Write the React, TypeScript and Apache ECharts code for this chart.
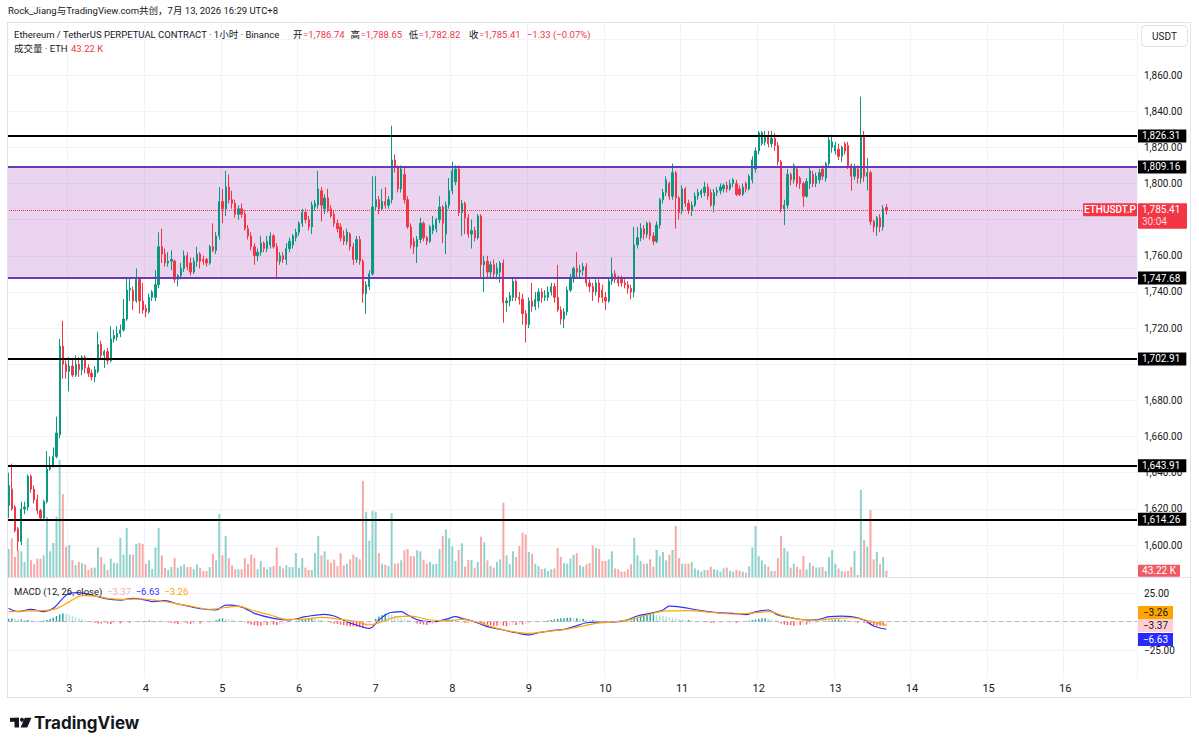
import React, { useEffect, useRef } from "react";
import * as echarts from "echarts";

const FONT = 'Roboto, "Noto Sans CJK SC", "Noto Sans", sans-serif';

// ---- time axis: hourly candles, first candle Jul 2 05:00 (UTC+8)
const FIRST_DAY = 2;
const FIRST_HOUR = 5;
const SLOTS = 354;

// ---- candles [open, high, low, close]
const candles: [number, number, number, number][] = [
  [1622,1640,1615,1633],[1631,1645,1619,1620],[1621,1622,1607,1608],[1609,1610,1597,1602],
  [1602,1624,1600,1620],[1620,1624,1617,1621],[1621,1639,1619,1638],[1638,1639,1629,1631],
  [1631,1633,1623,1625],[1625,1628,1617,1619],[1619,1620,1614,1615],[1615,1625,1614,1624],
  [1624,1652,1623,1642],[1642,1649,1641,1644],[1644,1654,1643,1649],[1649,1671,1648,1662],
  [1661,1714,1659,1710],[1710,1724,1692,1700],[1700,1702,1692,1696],[1696,1704,1685,1699],
  [1699,1703,1693,1694],[1694,1705,1693,1700],[1700,1704,1693,1697],[1697,1705,1694,1704],
  [1704,1705,1695,1698],[1698,1700,1693,1695],[1695,1697,1691,1693],[1693,1699,1690,1697],
  [1696,1718,1695,1711],[1711,1713,1703,1705],[1705,1708,1698,1707],[1707,1709,1700,1702],
  [1702,1721,1701,1714],[1714,1719,1712,1716],[1715,1721,1713,1717],[1717,1722,1715,1719],
  [1719,1736,1718,1725],[1725,1748,1724,1741],[1741,1748,1735,1742],[1741,1743,1730,1735],
  [1735,1753,1734,1747],[1747,1748,1728,1735],[1735,1745,1728,1730],[1731,1733,1726,1729],
  [1729,1739,1728,1737],[1737,1741,1735,1740],[1737,1752,1735,1744],[1744,1773,1742,1765],
  [1765,1775,1756,1761],[1761,1764,1754,1756],[1756,1762,1754,1757],[1757,1763,1752,1758],
  [1757,1758,1745,1747],[1747,1750,1743,1749],[1749,1756,1747,1753],[1753,1763,1751,1760],
  [1760,1762,1752,1754],[1756,1759,1749,1751],[1751,1759,1750,1757],[1757,1765,1754,1761],
  [1761,1762,1753,1757],[1758,1760,1755,1757],[1758,1759,1754,1756],[1756,1766,1755,1765],
  [1765,1778,1762,1763],[1763,1773,1761,1771],[1771,1798,1769,1790],[1790,1797,1778,1786],
  [1786,1807,1782,1798],[1798,1805,1789,1791],[1791,1796,1786,1789],[1789,1791,1781,1783],
  [1783,1788,1780,1786],[1786,1789,1781,1783],[1783,1785,1774,1775],[1775,1777,1769,1771],
  [1771,1773,1763,1765],[1765,1767,1755,1760],[1760,1764,1757,1762],[1762,1771,1760,1767],
  [1767,1768,1762,1764],[1764,1771,1762,1768],[1766,1773,1764,1771],[1771,1772,1764,1765],
  [1765,1767,1747,1757],[1757,1762,1755,1760],[1760,1762,1756,1758],[1758,1767,1755,1764],
  [1764,1770,1762,1768],[1766,1772,1764,1771],[1770,1775,1768,1773],[1773,1779,1771,1778],
  [1778,1786,1776,1784],[1784,1786,1778,1780],[1780,1782,1774,1776],[1776,1790,1772,1788],
  [1787,1791,1785,1789],[1788,1807,1786,1797],[1796,1798,1779,1788],[1786,1794,1783,1792],
  [1792,1797,1784,1785],[1786,1788,1781,1782],[1783,1785,1776,1778],[1778,1780,1773,1775],
  [1776,1778,1768,1770],[1771,1774,1766,1768],[1768,1775,1766,1773],[1772,1773,1763,1765],
  [1765,1767,1755,1758],[1758,1771,1756,1769],[1769,1771,1755,1757],[1757,1758,1734,1739],
  [1739,1746,1728,1744],[1743,1752,1741,1750],[1750,1804,1749,1787],[1787,1804,1785,1791],
  [1791,1793,1783,1786],[1786,1797,1785,1790],[1790,1798,1786,1788],[1788,1793,1786,1791],
  [1791,1832,1789,1813],[1813,1816,1806,1809],[1809,1810,1795,1797],[1797,1810,1795,1808],
  [1805,1809,1789,1791],[1791,1793,1775,1776],[1776,1778,1764,1766],[1768,1770,1761,1765],
  [1765,1771,1756,1769],[1769,1781,1767,1778],[1778,1779,1768,1770],[1770,1771,1766,1768],
  [1768,1777,1767,1776],[1774,1782,1772,1777],[1775,1781,1773,1780],[1780,1793,1778,1787],
  [1787,1788,1767,1778],[1772,1790,1761,1788],[1788,1803,1786,1796],[1796,1812,1794,1807],
  [1801,1810,1799,1808],[1808,1810,1782,1784],[1784,1791,1771,1789],[1789,1790,1772,1781],
  [1781,1783,1770,1772],[1772,1780,1764,1774],[1774,1776,1768,1770],[1770,1783,1769,1782],
  [1782,1783,1748,1755],[1755,1760,1740,1757],[1757,1760,1748,1751],[1751,1757,1748,1755],
  [1755,1758,1748,1750],[1750,1756,1747,1753],[1751,1757,1745,1756],[1756,1758,1723,1734],
  [1734,1737,1729,1735],[1735,1740,1732,1738],[1737,1748,1735,1746],[1746,1747,1735,1737],
  [1737,1740,1733,1736],[1736,1739,1722,1728],[1728,1730,1712,1722],[1722,1737,1720,1735],
  [1735,1745,1729,1732],[1732,1740,1730,1736],[1735,1742,1731,1740],[1740,1742,1734,1737],
  [1737,1741,1735,1738],[1737,1743,1735,1740],[1740,1745,1738,1743],[1743,1745,1734,1737],
  [1737,1755,1729,1730],[1730,1732,1722,1725],[1725,1731,1720,1729],[1729,1743,1727,1741],
  [1741,1750,1740,1748],[1748,1754,1745,1753],[1753,1762,1748,1751],[1751,1755,1748,1752],
  [1752,1756,1749,1754],[1754,1756,1743,1745],[1745,1747,1740,1743],[1743,1745,1735,1740],
  [1740,1747,1738,1745],[1745,1747,1734,1737],[1741,1744,1734,1737],[1737,1740,1730,1735],
  [1735,1748,1734,1746],[1746,1759,1744,1750],[1750,1752,1745,1747],[1747,1749,1743,1745],
  [1747,1749,1743,1745],[1745,1747,1742,1744],[1744,1746,1739,1742],[1742,1744,1736,1740],
  [1740,1776,1737,1766],[1766,1776,1764,1770],[1770,1778,1768,1775],[1775,1777,1769,1772],
  [1772,1779,1770,1778],[1778,1779,1769,1771],[1771,1773,1766,1768],[1768,1779,1767,1777],
  [1777,1792,1775,1791],[1791,1797,1789,1795],[1795,1804,1793,1802],[1800,1801,1791,1793],
  [1793,1811,1791,1806],[1806,1807,1775,1792],[1792,1793,1780,1784],[1785,1799,1783,1797],
  [1797,1798,1787,1789],[1789,1791,1783,1785],[1785,1790,1782,1788],[1788,1795,1787,1793],
  [1793,1797,1791,1795],[1794,1797,1792,1796],[1795,1801,1793,1798],[1798,1800,1791,1793],
  [1795,1797,1787,1788],[1788,1797,1784,1795],[1795,1798,1793,1796],[1796,1800,1794,1798],
  [1797,1800,1795,1799],[1799,1801,1795,1797],[1797,1802,1796,1800],[1800,1803,1798,1802],
  [1800,1802,1793,1794],[1797,1799,1793,1794],[1794,1800,1793,1798],[1800,1801,1795,1797],
  [1797,1805,1796,1804],[1802,1815,1800,1813],[1808,1820,1806,1818],[1818,1829,1816,1828],
  [1822,1829,1821,1828],[1823,1829,1821,1826],[1826,1829,1820,1822],[1822,1829,1820,1825],
  [1825,1828,1818,1821],[1821,1823,1810,1812],[1812,1813,1784,1786],[1786,1791,1777,1788],
  [1788,1808,1786,1805],[1805,1806,1799,1802],[1802,1811,1800,1810],[1808,1809,1798,1800],
  [1803,1804,1797,1800],[1800,1801,1787,1793],[1793,1803,1792,1801],[1800,1809,1797,1807],
  [1805,1807,1798,1800],[1800,1806,1798,1804],[1802,1808,1800,1806],[1808,1810,1802,1804],
  [1803,1812,1801,1811],[1811,1826,1809,1824],[1820,1827,1817,1823],[1818,1823,1816,1821],
  [1819,1822,1813,1815],[1815,1821,1812,1820],[1822,1823,1816,1818],[1821,1823,1808,1810],
  [1810,1811,1796,1804],[1804,1811,1802,1809],[1808,1810,1800,1803],[1803,1848,1800,1826],
  [1826,1829,1801,1804],[1804,1814,1796,1806],[1806,1807,1777,1779],[1779,1780,1773,1776],
  [1776,1782,1771,1781],[1781,1783,1773,1776],[1776,1788,1774,1786],[1786.74,1788.65,1782.82,1785.41],
];

// ---- volume (thousand ETH)
const volumesK: number[] = [
  192,265,137,185,176,103,265,116,87,126,
  126,148,411,176,233,413,801,568,208,219,
  116,82,103,94,87,48,64,64,203,137,
  91,48,126,98,94,269,153,336,153,153,
  226,233,226,91,114,55,203,336,148,64,
  48,68,130,64,75,87,68,68,53,87,
  64,41,41,68,158,114,431,148,281,130,
  80,53,53,53,130,91,153,130,53,110,
  68,53,68,75,203,75,59,80,68,68,
  164,64,130,64,48,48,164,281,148,176,
  119,98,119,75,164,80,91,121,153,137,
  121,658,447,249,454,447,164,91,84,75,
  436,91,94,114,183,192,142,142,183,176,
  119,91,103,87,91,192,281,326,265,210,
  110,185,231,71,116,116,64,103,276,237,
  114,75,64,103,121,509,148,87,176,137,
  212,304,292,171,158,91,75,55,59,41,
  53,59,199,137,96,91,126,153,164,80,
  71,87,96,215,199,192,110,110,121,176,
  59,53,37,37,53,87,269,148,110,91,
  91,121,71,185,142,171,114,153,185,349,
  130,91,91,91,103,59,48,37,48,48,
  71,55,48,37,59,64,41,37,48,41,
  37,30,75,203,349,142,114,87,71,41,
  41,130,281,199,176,64,91,71,53,144,
  53,98,75,64,68,68,41,137,185,91,
  59,41,37,41,68,180,14,596,253,208,
  459,121,171,87,137,43.22,
];

// ---- MACD (12, 26, close): readings [candle index, value]
const macdPoints: [number, number][] = [
  [0,11.8],[3,8.8],[7,10.9],[11,8.8],[14,11.8],[17,20.6],[19,25.0],[22,25.6],[26,23.5],[30,20.6],
  [35,19.1],[39,20.6],[43,19.1],[45,17.7],[49,18.5],[53,15.6],[57,13.2],[61,11.2],[65,10.3],[68,14.7],
  [70,14.7],[74,11.8],[77,7.4],[83,3.0],[88,1.5],[93,4.4],[99,6.5],[102,5.0],[106,0.0],[109,-2.9],
  [113,-5.9],[116,1.5],[119,7.4],[123,8.8],[125,5.9],[129,0.9],[133,0.0],[137,2.1],[140,4.4],[142,3.0],
  [146,0.0],[150,-4.4],[155,-7.3],[159,-9.7],[163,-11.7],[166,-9.7],[170,-8.0],[174,-6.7],[177,-4.4],[181,-0.9],
  [184,-0.3],[189,-0.3],[193,0.9],[197,5.0],[201,7.4],[205,10.3],[207,13.8],[211,12.7],[216,10.3],[222,8.0],
  [227,7.4],[231,6.2],[234,8.8],[238,10.3],[241,5.9],[246,3.0],[250,1.5],[254,2.1],[257,4.4],[261,5.0],
  [264,4.4],[268,1.5],[271,-3.8],[275,-6.63],
];
const signalPoints: [number, number][] = [
  [0,8.8],[4,9.4],[10,9.7],[15,11.5],[19,17.5],[23,23.0],[27,22.7],[31,20.6],[36,19.7],[42,20.0],
  [47,18.5],[52,16.2],[58,13.2],[63,11.0],[68,12.5],[72,13.8],[76,10.3],[82,5.9],[87,2.1],[92,2.1],
  [98,3.8],[104,2.1],[109,0.0],[113,-2.9],[117,0.0],[122,4.5],[126,5.0],[132,1.5],[138,0.9],[142,2.1],
  [148,-1.4],[153,-5.9],[158,-8.8],[163,-10.3],[168,-8.8],[173,-7.3],[179,-4.4],[184,-1.4],[189,-0.3],[195,2.1],
  [200,5.9],[206,9.5],[213,9.7],[220,8.3],[227,6.8],[232,7.4],[238,8.8],[243,5.0],[248,2.1],[254,1.5],
  [259,3.0],[264,3.5],[270,0.5],[275,-3.26],
];
const histogram: number[] = [
  2.5,3,2.5,2,2,1.5,1.5,1,
  0.5,-0.5,0.5,1,1.5,
  2.5,3.5,5,6.5,7.5,7,6,
  5,4,3,2,1.5,0.5,
  -0.5,-1,-1.5,-1.5,-1,-1.5,-2,-1.5,-1,-1.5,-1,-0.5,-1,-0.5,
  0.5,0.5,-0.5,0.5,1,0.5,-0.5,0.5,0.5,-0.5,-0.5,
  -1,-1.5,-2,-1.5,-1,-1.5,-2,-1.5,-1,-1.5,-1,-0.5,-0.5,0.5,
  1.5,2.5,3,2.5,2,1.5,1,0.5,0,
  -0.5,-1.5,-2.5,-3,-3.5,-3.5,-3,-3,-2.5,-2.5,-3,-2.5,-2,-1.5,-1,-0.5,
  0.5,1,2,2.5,3,3,2.5,2,1.5,1,
  0,-1,-1.5,-2,-2.5,-3,-3.5,-4,-4,-4.5,-5,-5.5,-5,
  -3,0,2.5,4.5,6,7,6.5,6,5,
  4,3,2,1.5,0.5,
  -0.5,-1.5,-2,-2.5,-3,-2.5,-2,-1.5,-0.5,
  0.5,1.5,2,2,1.5,
  0.5,-0.5,-1,-1,-0.5,-1,-1,-1.5,
  -2,-2.5,-3,-3.5,-3.5,-3,-3.5,-4,-3.5,-3,-3,-2.5,-2.5,-2,
  -1.5,-1,-0.5,-0.5,0,
  0.5,1,1.5,2,2.5,3,3,3.5,3.5,3,3,2.5,2.5,2,1.5,1.5,1,0.5,
  0.5,0,-0.5,-0.5,0,0.5,0.5,0,0.5,
  1,2.5,3.5,4.5,5.5,6,6.5,6.5,6,5.5,5,4.5,
  4,3.5,3,2.5,2,1.5,1.5,1,0.5,
  0.5,0,-0.5,-0.5,-1,-1,-0.5,-0.5,0,0,-0.5,-0.5,-1,-0.5,0,0.5,1,1.5,
  2,2.5,3,3,2.5,2,1,
  -0.5,-1.5,-2.5,-3,-3,-3.5,-3,-3,-2.5,-2.5,-2,-1.5,-1,
  -0.5,0,0.5,1,1.5,2,2,1.5,1.5,1,
  0.5,-0.5,-1,-0.5,-1,-1.5,-2.5,-3,-3.5,-3.5,-3.5,-3.37,
];

// ---- drawings & labels
const blackLevels = [1826.31, 1702.91, 1643.91, 1614.26];
const zoneLevels = [1809.16, 1747.68];
const lastPrice = 1785.41;
const lastVolumeK = 43.22;
const macdLast = { hist: -3.37, macd: -6.63, signal: -3.26 };
const hiddenPriceLabels = [1580, 1700, 1780, 1880, 1900];
const macdAxisLabels: Record<string, string> = { "25": "25.00", "-25": "\u221225.00" };

const headerLine1 = "Rock_Jiang与TradingView.com共创，7月 13, 2026 16:29 UTC+8";
const symbolTitle = "Ethereum / TetherUS PERPETUAL CONTRACT · 1小时 · Binance";
const ohlcLegend: [string, string][] = [
  ["开", "=1,786.74"], ["高", "=1,788.65"], ["低", "=1,782.82"], ["收", "=1,785.41"],
];
const changeText = "\u22121.33 (\u22120.07%)";

const UP = "#089981";
const DOWN = "#f23645";
const GRID_COLOR = "#f0f3fa";
const TEXT = "#131722";

const categories = Array.from({ length: SLOTS }, (_, i) => {
  const t = FIRST_HOUR + i;
  const h = t % 24;
  const d = FIRST_DAY + Math.floor(t / 24);
  return h === 0 ? String(d) : `${d}/${h}`;
});
const isDayStart = (_i: number, v: string) => !String(v).includes("/");

const fmt = (v: number) =>
  v.toLocaleString("en-US", { minimumFractionDigits: 2, maximumFractionDigits: 2 });
const minus = (v: number) => (v < 0 ? "\u2212" : "") + Math.abs(v).toFixed(2);

const histColor = (i: number) => {
  const v = histogram[i];
  const p = i > 0 ? histogram[i - 1] : v;
  if (v >= 0) return v >= p ? "#26a69a" : "#b2dfdb";
  return v <= p ? "#ff5252" : "#ffcdd2";
};

function buildOption(): any {
  const levelLabel = {
    show: true,
    position: "end",
    distance: 1,
    formatter: (p: any) => fmt(p.value),
    backgroundColor: "#000",
    color: "#fff",
    fontSize: 10,
    fontFamily: FONT,
    padding: [2, 6, 1, 4],
  };
  return {
    animation: false,
    backgroundColor: "#ffffff",
    textStyle: { fontFamily: FONT },
    grid: [
      { left: 7, right: 62, top: 2.69, bottom: 167.8 },
      { left: 7, right: 62, top: 22, bottom: 172 },
      { left: 7, right: 62, top: 565, bottom: 70.6 },
    ],
    xAxis: [
      { type: "category", gridIndex: 0, data: categories, boundaryGap: true, show: false },
      {
        type: "category", gridIndex: 1, data: categories, boundaryGap: true,
        axisLine: { show: false }, axisTick: { show: false }, axisLabel: { show: false },
        splitLine: { show: true, interval: isDayStart, lineStyle: { color: GRID_COLOR } },
      },
      {
        type: "category", gridIndex: 2, data: categories, boundaryGap: true,
        axisLine: { show: false }, axisTick: { show: false },
        axisLabel: { interval: isDayStart, color: TEXT, fontSize: 11, margin: 5, fontFamily: FONT },
        splitLine: { show: true, interval: isDayStart, lineStyle: { color: GRID_COLOR } },
      },
    ],
    yAxis: [
      {
        type: "value", gridIndex: 0, position: "right", min: 1580, max: 1900, interval: 20,
        axisLine: { show: false }, axisTick: { show: false },
        axisLabel: {
          color: TEXT, fontSize: 10, margin: 7, fontFamily: FONT,
          formatter: (v: number) => (hiddenPriceLabels.includes(v) ? "" : fmt(v)),
        },
        splitLine: { show: true, showMinLine: false, showMaxLine: false, lineStyle: { color: GRID_COLOR } },
      },
      { type: "value", gridIndex: 1, min: 0, max: 3800, show: false },
      {
        type: "value", gridIndex: 2, position: "right", min: -50, max: 50, interval: 25,
        axisLine: { show: false }, axisTick: { show: false },
        axisLabel: {
          color: TEXT, fontSize: 10, margin: 7, fontFamily: FONT,
          formatter: (v: number) => macdAxisLabels[String(v)] || "",
        },
        splitLine: { show: true, showMinLine: false, showMaxLine: false, lineStyle: { color: GRID_COLOR } },
      },
    ],
    series: [
      {
        type: "bar",
        name: "volume",
        xAxisIndex: 1,
        yAxisIndex: 1,
        barWidth: "62%",
        z: 2,
        silent: true,
        data: volumesK.map((v, i) => ({
          value: v,
          itemStyle: {
            color: candles[i][3] >= candles[i][0] ? "rgba(38,166,154,0.5)" : "rgba(239,83,80,0.5)",
          },
        })),
      },
      {
        type: "candlestick",
        name: "ETHUSDT.P",
        xAxisIndex: 0,
        yAxisIndex: 0,
        barWidth: "55%",
        z: 3,
        silent: true,
        data: candles.map(([o, h, l, c]) => [o, c, l, h]),
        itemStyle: { color: UP, color0: DOWN, borderColor: UP, borderColor0: DOWN, borderWidth: 1 },
        markArea: {
          silent: true,
          itemStyle: { color: "rgba(156,39,176,0.2)" },
          data: [[{ yAxis: zoneLevels[0] }, { yAxis: zoneLevels[1] }]],
        },
        markLine: {
          silent: true,
          symbol: ["none", "none"],
          animation: false,
          data: [
            { yAxis: lastPrice, lineStyle: { color: DOWN, width: 1, type: "dotted" }, label: { show: false } },
            ...zoneLevels.map((v) => ({
              yAxis: v, lineStyle: { color: "#673ab7", width: 2, type: "solid" }, label: levelLabel,
            })),
            ...blackLevels.map((v) => ({
              yAxis: v, lineStyle: { color: "#000000", width: 2, type: "solid" }, label: levelLabel,
            })),
          ],
        },
      },
      {
        type: "bar",
        name: "Histogram",
        xAxisIndex: 2,
        yAxisIndex: 2,
        barWidth: "45%",
        silent: true,
        data: histogram.map((v, i) => ({ value: v, itemStyle: { color: histColor(i) } })),
        markLine: {
          silent: true,
          symbol: ["none", "none"],
          data: [{ yAxis: 0, lineStyle: { color: "#b2b5be", width: 1, type: [4, 4] }, label: { show: false } }],
        },
      },
      {
        type: "line",
        name: "MACD",
        xAxisIndex: 2,
        yAxisIndex: 2,
        data: macdPoints,
        showSymbol: false,
        smooth: 0.35,
        silent: true,
        lineStyle: { color: "#3030ff", width: 1.2 },
        z: 4,
      },
      {
        type: "line",
        name: "Signal",
        xAxisIndex: 2,
        yAxisIndex: 2,
        data: signalPoints,
        showSymbol: false,
        smooth: 0.35,
        silent: true,
        lineStyle: { color: "#ffa500", width: 1.2 },
        z: 4,
      },
    ],
  };
}

function txt(x: number, y: number, text: string, fontSize: number, fill: string, extra: any = {}) {
  return {
    type: "text",
    x,
    y,
    silent: true,
    z: 100,
    style: {
      text,
      fill,
      fontSize,
      fontFamily: FONT,
      verticalAlign: "middle",
      align: "left",
      ...extra,
    },
  };
}

export default function App() {
  const ref = useRef<HTMLDivElement>(null);
  useEffect(() => {
    document.body.style.margin = "0";
    const chart = echarts.init(ref.current as HTMLDivElement, undefined, { renderer: "svg" });
    chart.setOption(buildOption());

    const py = chart.convertToPixel({ yAxisIndex: 0 }, lastPrice) as number;
    const vy = chart.convertToPixel({ yAxisIndex: 1 }, lastVolumeK) as number;
    const hy = chart.convertToPixel({ yAxisIndex: 2 }, macdLast.hist) as number;

    const border = "#e0e3eb";
    const g: any[] = [];
    const line = (x1: number, y1: number, x2: number, y2: number, stroke = border) =>
      g.push({ type: "line", silent: true, z: 90, shape: { x1, y1, x2, y2 }, style: { stroke, lineWidth: 1 } });

    // frame and pane separator
    line(7, 22.5, 1190, 22.5);
    line(7.5, 22, 7.5, 698);
    line(1190.5, 22, 1190.5, 698);
    line(7, 697.5, 1190, 697.5);
    line(7, 577.5, 1190, 577.5);

    // header
    g.push(txt(8, 10, headerLine1, 9.5, TEXT));
    g.push(txt(14, 34, symbolTitle, 9.5, TEXT));
    const legendX = [293, 350.5, 408.7, 469];
    ohlcLegend.forEach(([k, v], i) => {
      g.push(txt(legendX[i], 34, k, 9.5, TEXT));
      g.push(txt(legendX[i] + 10, 34, v, 9.5, DOWN));
    });
    g.push(txt(526.7, 34, changeText, 9.5, DOWN));
    g.push(txt(14, 48, "成交量 · ETH", 9.5, TEXT));
    g.push(txt(71, 48, `${lastVolumeK} K`, 9.5, DOWN));

    // USDT box
    g.push({
      type: "rect", silent: true, z: 90,
      shape: { x: 1141.5, y: 25.5, width: 46, height: 21, r: 4 },
      style: { fill: "#fff", stroke: border, lineWidth: 1 },
    });
    g.push(txt(1164.5, 36, "USDT", 10, TEXT, { align: "center" }));

    // last price tags
    g.push({ type: "rect", silent: true, z: 95, shape: { x: 1083, y: py - 6.5, width: 54, height: 13, r: 1 }, style: { fill: DOWN } });
    g.push(txt(1110, py, "ETHUSDT.P", 10, "#fff", { align: "center", fontWeight: 500 }));
    g.push({ type: "rect", silent: true, z: 95, shape: { x: 1138, y: py - 6.5, width: 49, height: 25.5, r: 1 }, style: { fill: DOWN } });
    g.push(txt(1142, py, fmt(lastPrice), 10, "#fff"));
    g.push(txt(1142, py + 12, "30:04", 10, "#ffd6d9"));

    // last volume tag
    g.push({ type: "rect", silent: true, z: 95, shape: { x: 1138, y: vy - 6, width: 42, height: 12, r: 1 }, style: { fill: "#f05a62" } });
    g.push(txt(1159, vy, `${lastVolumeK} K`, 10, "#fff", { align: "center" }));

    // MACD tags (spread apart so they do not collide)
    const tag = (cy: number, fill: string, color: string, text: string) => {
      g.push({ type: "rect", silent: true, z: 95, shape: { x: 1138, y: cy - 6.5, width: 35, height: 13 }, style: { fill } });
      g.push(txt(1155.5, cy, text, 10, color, { align: "center" }));
    };
    tag(hy - 13, "#ffa500", TEXT, minus(macdLast.signal));
    tag(hy, "#ffcdd2", TEXT, minus(macdLast.hist));
    tag(hy + 14, "#2a2aff", "#fff", minus(macdLast.macd));

    // MACD legend (one rich text so the parts never overlap)
    g.push({
      type: "text", x: 14, y: 591, silent: true, z: 100,
      style: {
        text: `{t|MACD (12, 26, close)}  {h|${minus(macdLast.hist)}}  {m|${minus(macdLast.macd)}}  {s|${minus(macdLast.signal)}}`,
        fontSize: 9.5, fontFamily: FONT, verticalAlign: "middle", align: "left",
        rich: {
          t: { fill: TEXT, color: TEXT, fontSize: 9.5, fontFamily: FONT },
          h: { fill: "#ffa8b0", color: "#ffa8b0", fontSize: 9.5, fontFamily: FONT },
          m: { fill: "#3030ff", color: "#3030ff", fontSize: 9.5, fontFamily: FONT },
          s: { fill: "#ffa500", color: "#ffa500", fontSize: 9.5, fontFamily: FONT },
        },
      },
    });

    // TradingView logo
    g.push({ type: "rect", silent: true, z: 90, shape: { x: 10, y: 717.8, width: 9, height: 4 }, style: { fill: TEXT } });
    g.push({ type: "rect", silent: true, z: 90, shape: { x: 14.5, y: 717.8, width: 4.5, height: 9.7 }, style: { fill: TEXT } });
    g.push({ type: "circle", silent: true, z: 90, shape: { cx: 22, cy: 719.8, r: 2 }, style: { fill: TEXT } });
    g.push({
      type: "polygon", silent: true, z: 90,
      shape: { points: [[24.8, 717.8], [31.5, 717.8], [27.2, 727.5], [20.6, 727.5]] },
      style: { fill: TEXT },
    });
    g.push(txt(34, 723, "TradingView", 17, TEXT, { fontWeight: "bold", fontFamily: "Inter, Roboto, sans-serif" }));

    chart.setOption({ graphic: g });
    return () => chart.dispose();
  }, []);
  return <div ref={ref} style={{ width: 1199, height: 749 }} />;
}
